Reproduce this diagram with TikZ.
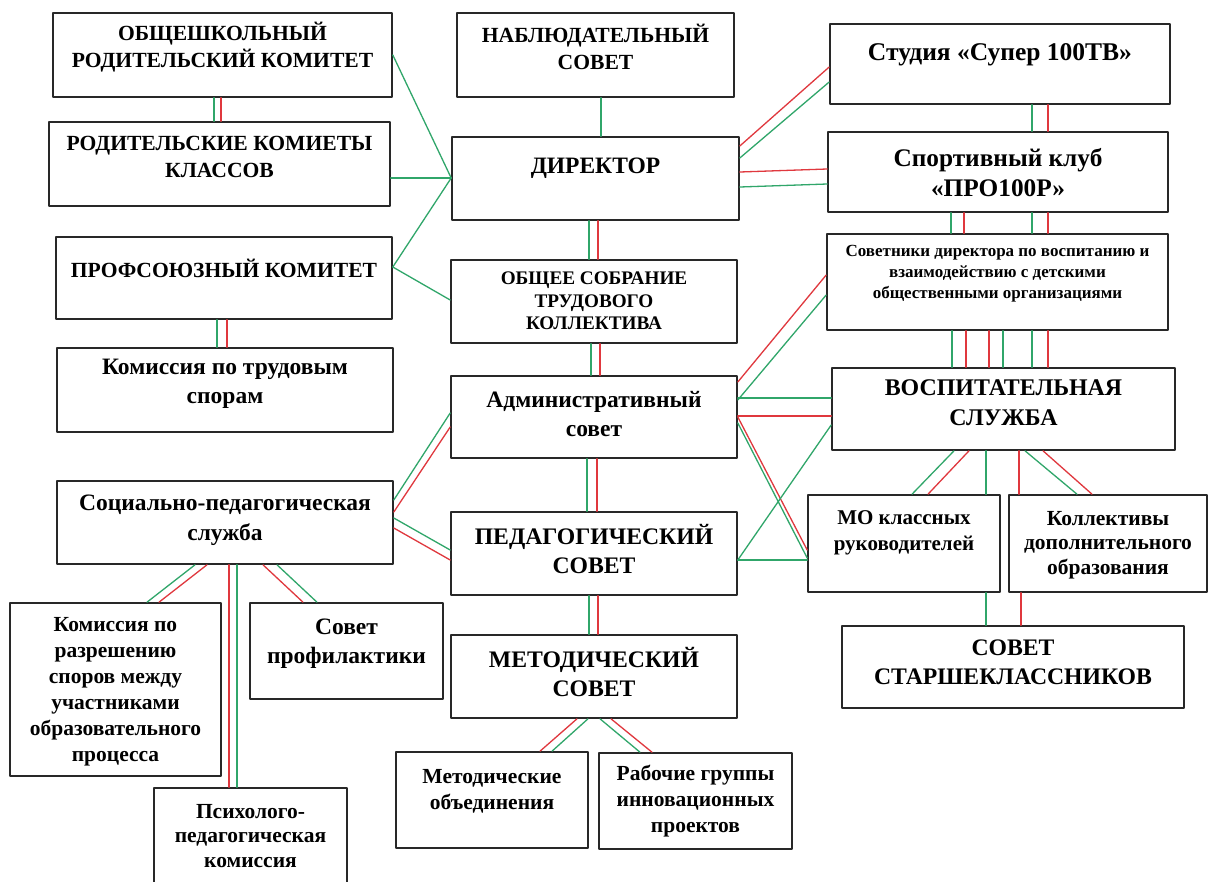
\documentclass[tikz,border=0pt]{standalone}
\usepackage{fontspec}
\setmainfont{Liberation Serif}
\usetikzlibrary{calc}

\begin{document}
\begin{tikzpicture}[x=1pt,y=-1pt,line cap=round,line join=round]
  % ----- styles & colors -----
  \definecolor{lgreen}{RGB}{48,166,106}
  \definecolor{lred}{RGB}{224,56,62}
  \definecolor{boxgray}{RGB}{40,40,40}
  \tikzset{
    box/.style={draw=boxgray,line width=1.6pt,inner sep=0pt},
    txt/.style={align=center,text=black,inner sep=0pt,font=\bfseries\fontsize{21.6}{27}\selectfont},
    txtbig/.style={txt,font=\bfseries\fontsize{23.7}{29}\selectfont},
    txtmix/.style={txt,font=\bfseries\fontsize{23.5}{28.5}\selectfont},
    txtsm/.style={txt,font=\bfseries\fontsize{21.5}{26}\selectfont},
    gl/.style={draw=lgreen,line width=1.3pt},
    rl/.style={draw=lred,line width=1.3pt}
  }

  % ----- page (pixel grid, y downwards) -----
  \fill[white] (0,0) rectangle (1209,881);
  \useasboundingbox (0,0) rectangle (1209,881);

  % ----- boxes, left column -----
  \node[box,minimum width=339,minimum height=84] (obsh) at (222.5,55) {};
  \node[box,minimum width=341,minimum height=84] (rodk) at (219.5,164) {};
  \node[box,minimum width=336,minimum height=82] (prof) at (224,278) {};
  \node[box,minimum width=336,minimum height=84] (ktsp) at (225,390) {};
  \node[box,minimum width=336,minimum height=83] (socped) at (225,522.5) {};
  \node[box,minimum width=211,minimum height=173] (komraz) at (115.5,689.5) {};
  \node[box,minimum width=193,minimum height=96] (profil) at (346.5,651) {};
  \node[box,minimum width=193,minimum height=124] (psych) at (250.5,850) {};

  % ----- boxes, middle column -----
  \node[box,minimum width=277,minimum height=84] (nabl) at (595.5,55) {};
  \node[box,minimum width=287,minimum height=83] (dir) at (595.5,178.5) {};
  \node[box,minimum width=286,minimum height=83] (obsob) at (594,301.5) {};
  \node[box,minimum width=286,minimum height=82] (adm) at (594,417) {};
  \node[box,minimum width=286,minimum height=83] (ped) at (594,553.5) {};
  \node[box,minimum width=286,minimum height=83] (met) at (594,676.5) {};
  \node[box,minimum width=192,minimum height=96] (metob) at (492,800) {};
  \node[box,minimum width=193,minimum height=96] (rabgr) at (695.5,801) {};

  % ----- boxes, right column -----
  \node[box,minimum width=340,minimum height=80] (studio) at (1000,64) {};
  \node[box,minimum width=340,minimum height=80] (sport) at (998,172) {};
  \node[box,minimum width=341,minimum height=96] (sovdir) at (997.5,282) {};
  \node[box,minimum width=343,minimum height=82] (vosp) at (1003.5,409) {};
  \node[box,minimum width=192,minimum height=97] (mo) at (904,543.5) {};
  \node[box,minimum width=198,minimum height=97] (koll) at (1108,543.5) {};
  \node[box,minimum width=342,minimum height=82] (starsh) at (1013,667) {};

  % ----- texts -----
  \node[txt] (obshT) at (222.5,47) {ОБЩЕШКОЛЬНЫЙ\\РОДИТЕЛЬСКИЙ КОМИТЕТ};
  \node[txt] (rodkT) at (219.5,157) {РОДИТЕЛЬСКИЕ КОМИЕТЫ\\КЛАССОВ};
  \node[txt] (profT) at (224,268) {ПРОФСОЮЗНЫЙ КОМИТЕТ};
  \node[txtmix] (ktspT) at (225,384) {Комиссия по трудовым\\спорам};
  \node[txtmix,font=\bfseries\fontsize{23.5}{30}\selectfont] (socpedT) at (225,520) {Социально-педагогическая\\служба};
  \node[txtsm] (komrazT) at (115.5,692) {Комиссия по\\разрешению\\споров между\\участниками\\образовательного\\процесса};
  \node[txtmix,font=\bfseries\fontsize{23.5}{29}\selectfont] (profilT) at (346.5,644) {Совет\\профилактики};
  \node[txtsm,font=\bfseries\fontsize{21.5}{24.5}\selectfont] (psychT) at (250.5,836) {Психолого-\\педагогическая\\комиссия};
  \node[txt] (nablT) at (595.5,47) {НАБЛЮДАТЕЛЬНЫЙ\\СОВЕТ};
  \node[txt,font=\bfseries\fontsize{23.5}{27}\selectfont] (dirT) at (595.5,168) {ДИРЕКТОР};
  \node[txt,font=\bfseries\fontsize{19.2}{22.5}\selectfont] (obsobT) at (594,301) {ОБЩЕЕ СОБРАНИЕ\\ТРУДОВОГО\\КОЛЛЕКТИВА};
  \node[txtmix] (admT) at (594,414) {Административный\\совет};
  \node[txtbig] (pedT) at (594,549) {ПЕДАГОГИЧЕСКИЙ\\СОВЕТ};
  \node[txtbig] (metT) at (594,672) {МЕТОДИЧЕСКИЙ\\СОВЕТ};
  \node[txtsm] (metobT) at (492,791) {Методические\\объединения};
  \node[txtsm] (rabgrT) at (695.5,801) {Рабочие группы\\инновационных\\проектов};
  \node[txt,font=\bfseries\fontsize{25.5}{30}\selectfont] (studioT) at (1000,55) {Студия «Супер 100ТВ»};
  \node[txt,font=\bfseries\fontsize{25.3}{30}\selectfont] (sportT) at (998,173) {Спортивный клуб\\«ПРО100Р»};
  \node[txt,font=\bfseries\fontsize{17}{21}\selectfont] (sovdirT) at (997.5,274) {Советники директора по воспитанию и\\взаимодействию с детскими\\общественными организациями};
  \node[txtbig,font=\bfseries\fontsize{23.9}{30}\selectfont] (vospT) at (1003.5,403) {ВОСПИТАТЕЛЬНАЯ\\СЛУЖБА};
  \node[txtsm,font=\bfseries\fontsize{21}{26}\selectfont] (moT) at (904,533) {МО классных\\руководителей};
  \node[txtsm,font=\bfseries\fontsize{21.5}{24.5}\selectfont] (kollT) at (1108,545) {Коллективы\\дополнительного\\образования};
  \node[txtbig] (starshT) at (1013,662) {СОВЕТ\\СТАРШЕКЛАССНИКОВ};

  % ----- vertical connectors (x in px) -----
  \foreach \x/\s in {214/gl,221/rl}
    \draw[\s] (obsh.south -| \x,0) -- (rodk.north -| \x,0);
  \foreach \x/\s in {217/gl,227/rl}
    \draw[\s] (prof.south -| \x,0) -- (ktsp.north -| \x,0);
  \foreach \x/\s in {229/rl,237/gl}
    \draw[\s] (socped.south -| \x,0) -- (psych.north -| \x,0);
  \draw[gl] (nabl.south -| 601,0) -- (dir.north -| 601,0);
  \foreach \x/\s in {589/gl,598/rl}
    \draw[\s] (dir.south -| \x,0) -- (obsob.north -| \x,0);
  \foreach \x/\s in {591/gl,600/rl}
    \draw[\s] (obsob.south -| \x,0) -- (adm.north -| \x,0);
  \foreach \x/\s in {587/gl,597/rl}
    \draw[\s] (adm.south -| \x,0) -- (ped.north -| \x,0);
  \foreach \x/\s in {589/gl,598/rl}
    \draw[\s] (ped.south -| \x,0) -- (met.north -| \x,0);
  \foreach \x/\s in {1032/gl,1048/rl}
    \draw[\s] (studio.south -| \x,0) -- (sport.north -| \x,0);
  \foreach \x/\s in {951/gl,964/rl,1032/gl,1048/rl}
    \draw[\s] (sport.south -| \x,0) -- (sovdir.north -| \x,0);
  \foreach \x/\s in {952/gl,966/rl,989/rl,1003/gl,1032/gl,1048/rl}
    \draw[\s] (sovdir.south -| \x,0) -- (vosp.north -| \x,0);
  \draw[gl] (vosp.south -| 986,0) -- (mo.north -| 986,0);
  \draw[rl] (vosp.south -| 1019,0) -- (koll.north -| 1019,0);
  \draw[gl] (mo.south -| 986,0) -- (starsh.north -| 986,0);
  \draw[rl] (koll.south -| 1021,0) -- (starsh.north -| 1021,0);

  % ----- parents and unions to the director -----
  \draw[gl] (obsh.east |- 0,55) -- (dir.west |- 0,178);
  \draw[gl] (rodk.east |- 0,178) -- (dir.west |- 0,178);
  \draw[gl] (prof.east |- 0,267) -- (dir.west |- 0,178);
  \draw[gl] (prof.east |- 0,267) -- (obsob.west |- 0,300);

  % ----- director to the right column -----
  \draw[rl] (dir.east |- 0,146) -- (studio.west |- 0,67);
  \draw[gl] (dir.east |- 0,158) -- (studio.west |- 0,82);
  \draw[rl] (dir.east |- 0,172) -- (sport.west |- 0,169);
  \draw[gl] (dir.east |- 0,187) -- (sport.west |- 0,184);

  % ----- administrative council to the right column -----
  \draw[rl] (adm.east |- 0,382) -- (sovdir.west |- 0,275);
  \draw[gl] (adm.east |- 0,400) -- (sovdir.west |- 0,295);
  \draw[gl] (adm.east |- 0,398) -- (vosp.west |- 0,398);
  \draw[rl] (adm.east |- 0,416) -- (vosp.west |- 0,416);
  \draw[rl] (adm.east |- 0,417) -- (mo.west |- 0,550);
  \draw[gl] (adm.east |- 0,423) -- (mo.west |- 0,558);
  \draw[gl] (vosp.west |- 0,425) -- (ped.east |- 0,560);
  \draw[gl] (ped.east |- 0,560) -- (mo.west |- 0,560);

  % ----- upbringing service downwards -----
  \draw[gl] (vosp.south -| 954,0) -- (mo.north -| 912,0);
  \draw[rl] (vosp.south -| 969,0) -- (mo.north -| 928,0);
  \draw[gl] (vosp.south -| 1025,0) -- (koll.north -| 1077,0);
  \draw[rl] (vosp.south -| 1043,0) -- (koll.north -| 1092,0);

  % ----- methodical council downwards -----
  \draw[rl] (met.south -| 577,0) -- (metob.north -| 540,0);
  \draw[gl] (met.south -| 588,0) -- (metob.north -| 552,0);
  \draw[gl] (met.south -| 600,0) -- (rabgr.north -| 640,0);
  \draw[rl] (met.south -| 611,0) -- (rabgr.north -| 652,0);

  % ----- social service -----
  \draw[gl] (socped.east |- 0,500) -- (adm.west |- 0,413);
  \draw[rl] (socped.east |- 0,512) -- (adm.west |- 0,427);
  \draw[gl] (socped.east |- 0,518) -- (ped.west |- 0,550);
  \draw[rl] (socped.east |- 0,528) -- (ped.west |- 0,560);
  \draw[gl] (socped.south -| 195,0) -- (komraz.north -| 147,0);
  \draw[rl] (socped.south -| 207,0) -- (komraz.north -| 159,0);
  \draw[rl] (socped.south -| 263,0) -- (profil.north -| 303,0);
  \draw[gl] (socped.south -| 277,0) -- (profil.north -| 317,0);

\end{tikzpicture}
\end{document}
